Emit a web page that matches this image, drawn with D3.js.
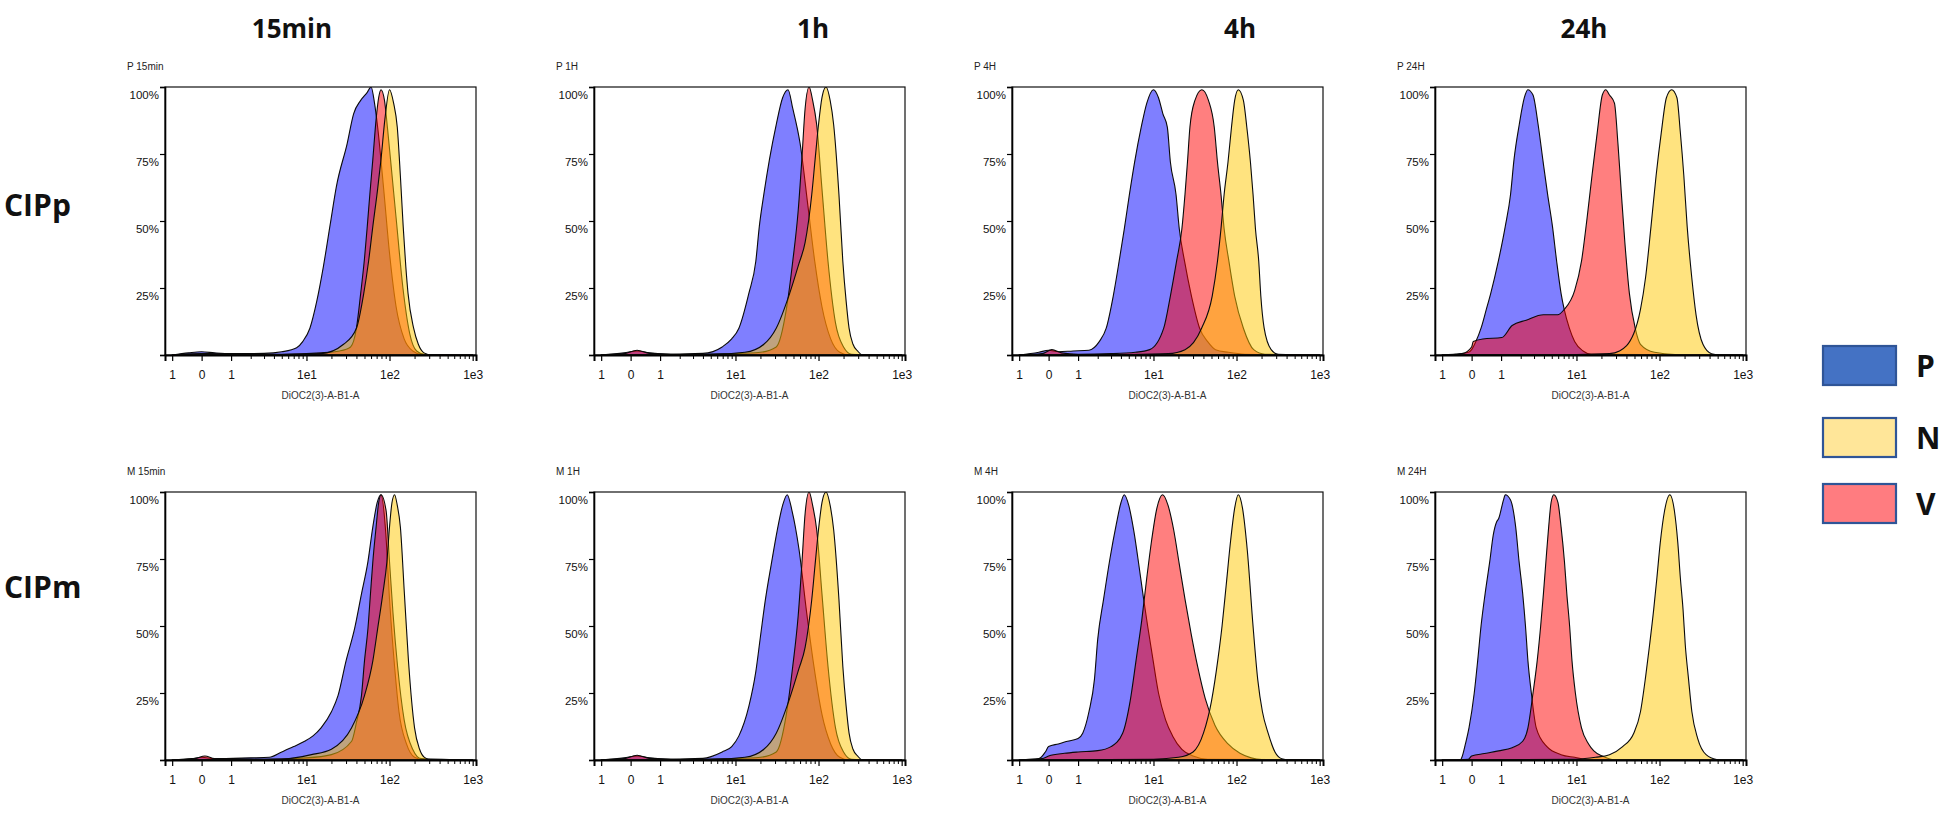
<!DOCTYPE html>
<html><head><meta charset="utf-8">
<script src="https://cdn.jsdelivr.net/npm/d3@7"></script>
<style>body{margin:0;background:#fff;} svg{display:block}</style>
</head><body>
<svg id="c" width="1946" height="818"></svg>
<script>
// ---------------- DATA ----------------
const columns = ["15min", "1h", "4h", "24h"];
const rows = ["CIPp", "CIPm"];
const panelTitles = [["P 15min", "P 1H", "P 4H", "P 24H"], ["M 15min", "M 1H", "M 4H", "M 24H"]];
const drawOrder = ["P", "V", "N"];
const legendNames = ["P", "N", "V"];
const xTickValues = [-1, 0, 1, 10, 100, 1000];
const xTickLabels = ["1", "0", "1", "1e1", "1e2", "1e3"];
const xMinorValues = [2,3,4,5,6,7,8,9,20,30,40,50,60,70,80,90,200,300,400,500,600,700,800,900];
const yTickValues = [0, 25, 50, 75, 100];
const yTickLabels = ["", "25%", "50%", "75%", "100%"];
const xTitle = "DiOC2(3)-A-B1-A";

// [fluorescence value, % of max]
const p15_P = [[-1,0],[-0.4,0.8],[0,1.2],[0.4,0.8],[1,0.5],[3,0.6],[5,1.2],[7.6,2.7],[9,5],[11,10],[13.3,20],[16,33],[19.4,49],[23,63],[31,79],[37,90],[45,95],[54,98],[60,100],[66,94],[72,85],[85,62],[100,38],[120,18],[150,6],[190,1.5],[240,0.3],[1000,0]];
const p15_V = [[-1,0],[0,0.5],[5,0.3],[15,0.8],[25,1.5],[34,3],[40,10],[45,23],[50,36],[54,48],[58,60],[63,73],[69,88],[74,96],[79,99],[87,95],[95,84],[105,70],[121,50],[145,25],[175,8],[212,1.5],[260,0.3],[1000,0]];
const p15_N = [[-1,0],[5,0.2],[15,0.5],[28,4],[40,10],[49,23],[56,35],[63,48],[72,62],[79,73],[88,88],[100,99],[112,94],[124,85],[135,67],[146,48],[157,33],[167,23],[195,10],[222,4],[260,0.8],[320,0],[1000,0]];

const p1_P = [[-1,0],[-0.2,0.8],[0.2,1.5],[0.6,0.8],[1.5,0.3],[4,0.6],[6.9,3],[9,6],[11,10],[14.5,23],[17.6,35],[19.4,48],[22,60],[25.7,73],[31,86],[37,96],[43,99],[49,92],[60,79],[75,55],[90,35],[110,18],[140,6],[180,1],[230,0],[1000,0]];
const p1_V = [[-1,0],[-0.2,0.5],[0.2,1.8],[0.6,0.6],[2,0.2],[10,0.5],[20,1],[31,3],[41,17],[49,35],[57,54],[63,73],[69,92],[77,100],[85,95],[95,86],[110,62],[130,35],[160,12],[200,3],[250,0.3],[1000,0]];
const p1_N = [[-1,0],[5,0.2],[13,1],[22,4],[31,10],[45,23],[58,34],[69,42],[83,60],[91,73],[100,86],[110,96],[123,100],[138,95],[152,86],[176,60],[196,35],[215,20],[233,10],[260,4],[295,1.5],[340,0],[1000,0]];

const p4_P = [[-1,0],[-0.3,1],[0,1.8],[0.3,1.2],[0.8,1.5],[1.5,1.8],[2.1,5],[2.6,10],[3.2,22],[3.8,35],[4.4,47],[5.1,60],[5.9,72],[7.1,85],[8.3,94],[10,99],[11.5,96],[13,90],[14.7,85],[16,72],[18.7,60],[20.5,47],[23.7,35],[28.7,22],[36,10],[45,5],[56,2],[80,1],[126,0.3],[1000,0]];
const p4_V = [[-1,0],[-0.2,0.5],[0.1,2],[0.4,0.8],[1,0.3],[3,0.5],[6,1],[9,2],[13.3,10],[16,22],[19,35],[22,47],[24,60],[25.7,72],[27.5,85],[31.6,95],[38.3,99],[46,95],[54,85],[59,72],[65,60],[71,47],[81,35],[95,22],[121,10],[161,2],[220,0.3],[1000,0]];
const p4_N = [[-1,0],[5,0.2],[15,0.5],[24,2],[38,10],[51,22],[59,35],[65,47],[71,60],[79,72],[87,85],[95,95],[105,99],[121,95],[133,85],[147,72],[158,60],[169,47],[185,35],[196,22],[215,10],[261,2],[316,0.3],[1000,0]];

const p24_P = [[-1,0],[-0.5,0.3],[-0.1,1],[0,2],[0.13,5],[0.29,10],[0.46,17],[0.61,23],[0.89,35],[1.18,48],[1.43,60],[1.61,73],[1.91,86],[2.24,96],[2.49,99],[2.91,97],[3.38,86],[3.87,73],[4.44,60],[5.1,48],[5.74,35],[6.5,23],[7.1,17],[8.2,10],[9.5,5],[12,1.5],[15,0.3],[1000,0]];
const p24_V = [[-1,0],[-0.3,0.5],[0,3],[0.05,5],[0.35,6],[1.03,6.5],[1.51,11],[2.37,13],[3.94,15],[5.9,15],[7.1,17],[9.5,24],[11.5,35],[13.3,50],[15.4,67],[17.8,83],[20.5,97],[22.6,99],[25,97],[28.7,94],[31.6,79],[34.8,60],[38.3,42],[43.4,23],[51,10],[59,4],[87,1],[154,0.2],[1000,0]];
const p24_N = [[-1,0],[10,0.2],[25,0.5],[33,1.5],[49,8],[59,17],[68,29],[79,48],[91,67],[105,83],[121,96],[140,99],[162,96],[178,83],[196,67],[215,48],[244,29],[275,15],[333,4],[422,0.5],[550,0],[1000,0]];

const m15_P = [[-1,0],[-0.3,0.5],[0,1],[0.4,0.5],[2,0.8],[3.5,1],[5,3],[7,5],[9.5,7],[12,9],[15,12],[20,18],[24,24],[30,37],[38,49],[46,62],[55,74],[63,87],[71,96],[79,99],[90,85],[100,60],[115,35],[130,18],[160,6],[200,1],[260,0],[1000,0]];
const m15_V = [[-1,0],[-0.2,0.5],[0.1,1.5],[0.4,0.5],[3,0.3],[10,0.8],[20,2],[35,7],[40,14],[46,24],[50,37],[55,49],[59,62],[63,74],[69,87],[74,96],[79,99],[91,93],[100,74],[110,55],[125,35],[150,15],[190,4],[240,0.5],[1000,0]];
const m15_N = [[-1,0],[5,0.3],[11.5,2],[20,4],[35,12],[50,24],[63,37],[72,49],[83,62],[93,74],[100,87],[107,96],[115,99],[124,95],[135,87],[151,62],[169,37],[200,12],[230,4],[263,1],[320,0],[1000,0]];

const m1_P = [[-1,0],[-0.2,0.8],[0.2,1.5],[0.6,0.8],[1.5,0.3],[4,0.6],[6.9,3],[9,5],[11,9],[14.5,20],[17.6,33],[20,46],[23,60],[27,73],[32,86],[37,95],[42,99],[48,93],[58,79],[72,55],[88,35],[110,17],[140,6],[180,1],[230,0],[1000,0]];
const m1_V = [[-1,0],[-0.2,0.5],[0.2,1.8],[0.6,0.6],[2,0.2],[10,0.5],[20,1],[31,3],[41,17],[49,35],[57,54],[63,73],[69,92],[77,100],[85,95],[95,86],[110,62],[130,35],[160,12],[200,3],[250,0.3],[1000,0]];
const m1_N = [[-1,0],[5,0.2],[13,1],[22,4],[31,10],[45,23],[58,34],[69,42],[83,60],[91,73],[100,86],[110,96],[123,100],[138,95],[152,86],[176,60],[196,35],[215,20],[233,10],[260,4],[295,1.5],[340,0],[1000,0]];

const m4_P = [[-1,0],[-0.3,0.5],[-0.1,3],[0,5],[0.3,6],[0.6,7],[1.0,8],[1.2,10],[1.5,18],[1.8,30],[2.0,45],[2.4,60],[2.9,75],[3.5,88],[4.0,96],[4.4,99],[5.0,95],[5.8,85],[6.7,72],[7.6,60],[8.5,50],[9.8,38],[11.5,25],[14,15],[17,9],[22,4],[30,1.5],[45,0.3],[1000,0]];
const m4_V = [[-1,0],[-0.2,0.5],[0,1.5],[0.5,2.5],[1,3],[2,3.5],[3,5],[4.2,10],[5.2,22],[6.2,38],[7.2,52],[8.3,68],[9.5,82],[11,94],[12.9,99],[15,95],[17.5,86],[20.5,73],[24,60],[28.5,47],[34,35],[42,23],[55,13],[79,6],[110,2.5],[150,0.8],[200,0.2],[1000,0]];
const m4_N = [[-1,0],[10,0.3],[20,1],[30,3],[40,10],[50,22],[60,38],[67,50],[75,65],[85,82],[95,94],[105,99],[118,94],[135,78],[158,50],[180,30],[205,18],[240,10],[290,3],[350,0.5],[450,0],[1000,0]];

const m24_P = [[-1,0],[-0.35,0],[-0.3,1],[-0.19,6],[-0.08,12],[0.08,25],[0.185,37],[0.29,50],[0.42,62],[0.575,74],[0.7,84],[0.83,89],[0.9,90],[1.1,97],[1.18,99],[1.43,97],[1.7,87],[1.9,74],[2.13,62],[2.32,50],[2.5,37],[2.77,25],[3.2,12],[4.36,5],[6.5,2],[9.5,1],[15,0],[1000,0]];
const m24_V = [[-1,0],[-0.1,0.3],[0,1.5],[0.4,2.4],[0.9,3.4],[1.51,4.6],[2.13,7],[2.5,12],[2.91,25],[3.29,37],[3.64,50],[3.94,62],[4.23,74],[4.58,87],[4.9,96],[5.3,99],[5.96,96],[6.5,87],[7.15,74],[7.64,62],[8.26,50],[8.83,37],[9.7,25],[11.5,12],[14,6],[16.2,3.4],[20.5,1.5],[30,0],[1000,0]];
const m24_N = [[-1,0],[10,0.3],[17,1],[25,2],[36,5],[49,10],[59,18],[68,31],[76,43],[85,56],[93,68],[102,81],[115,93],[133,99],[151,93],[166,81],[178,68],[192,56],[204,43],[222,31],[245,18],[288,8],[363,2],[486,0.2],[600,0],[1000,0]];

const panelData = [
  [{P:p15_P,V:p15_V,N:p15_N},{P:p1_P,V:p1_V,N:p1_N},{P:p4_P,V:p4_V,N:p4_N},{P:p24_P,V:p24_V,N:p24_N}],
  [{P:m15_P,V:m15_V,N:m15_N},{P:m1_P,V:m1_V,N:m1_N},{P:m4_P,V:m4_V,N:m4_N},{P:m24_P,V:m24_V,N:m24_N}]
];

// ---------------- STYLE / LAYOUT ----------------
const fills = {P:"rgba(0,0,255,0.5)", V:"rgba(255,0,0,0.5)", N:"rgba(255,200,0,0.5)"};
const legendFills = {P:"#4472C4", N:"#FFE699", V:"#FF7C80"};
const frameLefts = [165, 594, 1012, 1435];
const frameTops = [87, 492];
const W = 311, H = 268;
const headerX = [292, 813, 1240, 1584];
const C = 0.55;
const tf = v => Math.log10((v + Math.sqrt(v*v + 4*C*C)) / 2);
const tickFont = "'Liberation Sans', Arial, sans-serif";
const bigFont = "'Open Sans', 'Noto Sans', sans-serif";

const svg = d3.select("#c");
svg.append("rect").attr("width",1946).attr("height",818).attr("fill","#fff");

// column headers
svg.selectAll("text.col").data(columns).join("text").attr("class","col")
  .attr("x",(d,i)=>headerX[i]).attr("y",38).attr("text-anchor","middle")
  .attr("font-family",bigFont).attr("font-weight",700).attr("font-size",26).attr("fill","#111").text(d=>d);
// row labels
const rowY = [216, 598];
svg.selectAll("text.row").data(rows).join("text").attr("class","row")
  .attr("x",4).attr("y",(d,i)=>rowY[i]).attr("text-anchor","start")
  .attr("font-family",bigFont).attr("font-weight",700).attr("font-size",30).attr("fill","#111").text(d=>d);

rows.forEach((r, ri) => columns.forEach((c, ci) => {
  const g = svg.append("g").attr("transform",`translate(${frameLefts[ci]},${frameTops[ri]})`);
  const u = d3.scaleLinear().domain([-0.70, 3.04]).range([0, W]);
  const x = v => u(tf(v));
  const y = d3.scaleLinear().domain([0, 100]).range([H, 0]);
  const clipId = `clip${ri}${ci}`;
  g.append("clipPath").attr("id",clipId).append("rect").attr("width",W).attr("height",H+1);

  const area = d3.area().x(d=>x(d[0])).y0(H).y1(d=>y(d[1])).curve(d3.curveMonotoneX);
  const pg = g.append("g").attr("clip-path",`url(#${clipId})`);
  drawOrder.forEach(s => {
    pg.append("path").datum(panelData[ri][ci][s]).attr("d",area)
      .attr("fill",fills[s]).attr("stroke","#0a0a0a").attr("stroke-width",1.1).attr("stroke-linejoin","round");
  });

  // frame
  g.append("rect").attr("width",W).attr("height",H).attr("fill","none").attr("stroke","#111").attr("stroke-width",1.2);

  // x axis major
  const xa = g.append("g").attr("transform",`translate(0,${H})`)
    .call(d3.axisBottom(u).tickValues(xTickValues.map(tf)).tickFormat((d,i)=>xTickLabels[i]).tickSize(6).tickPadding(9));
  xa.select(".domain").attr("stroke","#000").attr("stroke-width",2);
  xa.selectAll(".tick line").attr("stroke","#000").attr("stroke-width",1.2);
  xa.selectAll("text").attr("font-family",tickFont).attr("font-size",12).attr("fill","#111");
  // x axis minor
  const xm = g.append("g").attr("transform",`translate(0,${H})`)
    .call(d3.axisBottom(u).tickValues(xMinorValues.map(tf)).tickFormat("").tickSize(4));
  xm.select(".domain").remove();
  xm.selectAll(".tick line").attr("stroke","#000").attr("stroke-width",1);

  // y axis
  const ya = g.append("g").call(d3.axisLeft(y).tickValues(yTickValues).tickFormat((d,i)=>yTickLabels[i]).tickSize(5).tickPadding(1));
  ya.select(".domain").attr("stroke","#000").attr("stroke-width",1.6);
  ya.selectAll(".tick line").attr("stroke","#000").attr("stroke-width",1.2);
  ya.selectAll("text").attr("font-family",tickFont).attr("font-size",11.5).attr("fill","#111").attr("dy","1em");

  // axis title
  g.append("text").attr("x",W/2).attr("y",H+44).attr("text-anchor","middle")
    .attr("font-family",tickFont).attr("font-size",10).attr("fill","#333").text(xTitle);
  // panel title
  g.append("text").attr("x",-38).attr("y",-17)
    .attr("font-family",tickFont).attr("font-size",10).attr("fill","#222").text(panelTitles[ri][ci]);
}));

// legend
const legY = [346, 418, 484];
const lg = svg.append("g");
legendNames.forEach((n,i) => {
  lg.append("rect").attr("x",1823).attr("y",legY[i]).attr("width",73).attr("height",39)
    .attr("fill",legendFills[n]).attr("stroke","#2F5597").attr("stroke-width",2.2);
  lg.append("text").attr("x",1916).attr("y",legY[i]+31).attr("font-family",bigFont)
    .attr("font-weight",700).attr("font-size",30).attr("fill","#111").text(n);
});
</script>
</body></html>
